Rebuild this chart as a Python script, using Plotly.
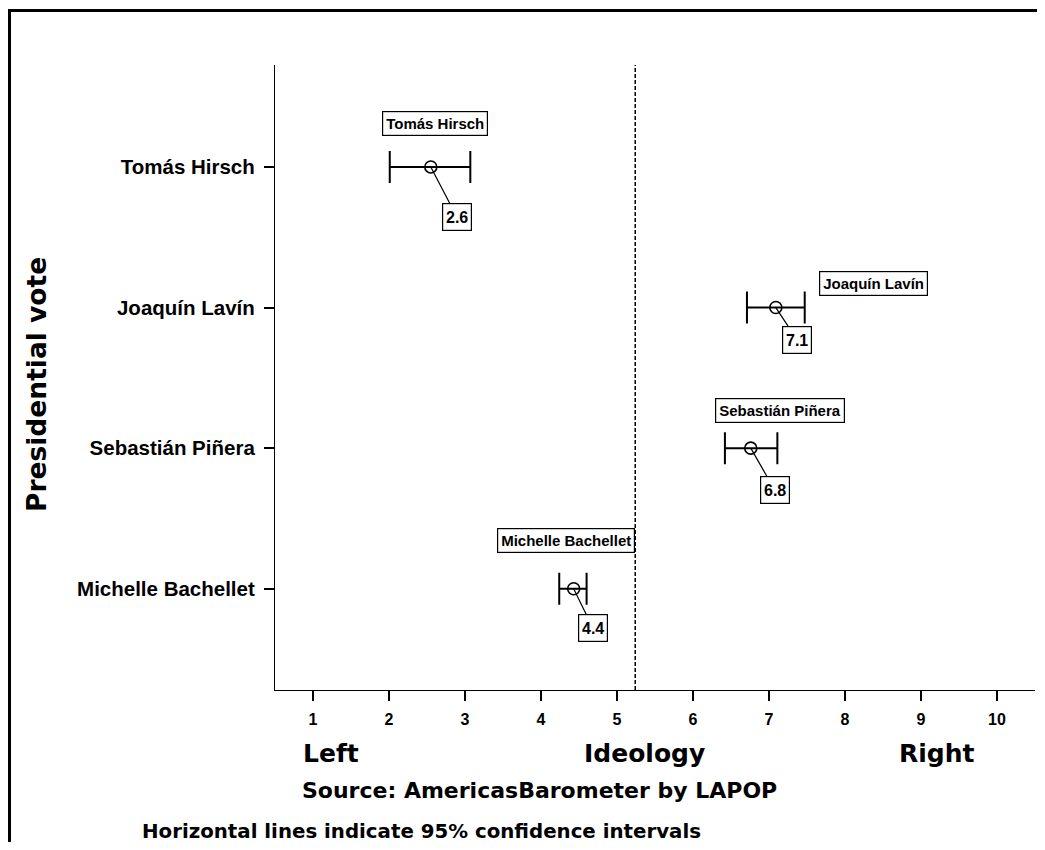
import plotly.graph_objects as go

# ---- data ----
candidates = ["Tomás Hirsch", "Joaquín Lavín", "Sebastián Piñera", "Michelle Bachellet"]
means = [2.55, 7.09, 6.76, 4.43]
ci_lower = [2.01, 6.71, 6.42, 4.24]
ci_upper = [3.07, 7.47, 7.11, 4.60]
value_labels = ["2.6", "7.1", "6.8", "4.4"]
overall_mean = 5.24
x_ticks = [1, 2, 3, 4, 5, 6, 7, 8, 9, 10]
category_order = ["Michelle Bachellet", "Sebastián Piñera", "Joaquín Lavín", "Tomás Hirsch"]

# ---- style ----
HEAVY = "DejaVu Sans"
BOLD = "Liberation Sans, Arial, sans-serif"
NARROW = "Liberation Sans Narrow, Liberation Sans, sans-serif"

# the page body has an 8px margin; the figure is sized so that nothing scrolls
W, H = 1029, 834
PL, PT, PW, PH = 275, 65, 760, 625   # plot area in screen pixels


def px(sx):
    return (sx - PL) / PW


def py(sy):
    return (PT + PH - sy) / PH


# pixel offsets of the value boxes (ax, ay) and name labels (xshift, yshift)
value_offsets = [(26, 50), (21, 32), (24, 42), (19, 39)]
name_offsets = [(4, 43), (98, 24), (29, 38), (-8, 48)]

fig = go.Figure()
fig.add_trace(go.Scatter(
    x=means, y=candidates, mode="markers",
    marker=dict(symbol="circle-open", size=12, color="black", line=dict(width=1.6, color="black")),
    error_x=dict(type="data", symmetric=False,
                 array=[u - m for u, m in zip(ci_upper, means)],
                 arrayminus=[m - l for m, l in zip(means, ci_lower)],
                 color="black", thickness=2, width=16),
    showlegend=False, hoverinfo="skip",
))

annotations = []
for name, m, lab, (ax, ay), (xs, ys) in zip(candidates, means, value_labels, value_offsets, name_offsets):
    annotations.append(dict(
        x=m, y=name, xref="x", yref="y", text="<b>%s</b>" % lab,
        showarrow=True, arrowhead=0, arrowwidth=1.2, arrowcolor="black",
        ax=ax, ay=ay, standoff=0, startstandoff=0,
        font=dict(family=BOLD, size=16, color="black"),
        bordercolor="black", borderwidth=1.2, borderpad=2, bgcolor="white",
        width=24, height=22,
    ))
    annotations.append(dict(
        x=m, y=name, xref="x", yref="y", text="<b>%s</b>" % name,
        showarrow=False, xshift=xs, yshift=ys,
        font=dict(family=BOLD, size=15, color="black"),
        bordercolor="black", borderwidth=1.2, borderpad=3, bgcolor="white",
    ))

# bottom texts
for sx, txt in [(331, "Left"), (644, "Ideology"), (937, "Right")]:
    annotations.append(dict(
        x=px(sx), y=py(753), xref="paper", yref="paper", xanchor="center", yanchor="middle",
        showarrow=False, text="<b>%s</b>" % txt,
        font=dict(family=HEAVY, size=25, color="black"),
    ))

annotations.append(dict(
    x=px(300), y=py(790), xref="paper", yref="paper",
    xanchor="left", yanchor="middle", showarrow=False,
    text="<b>Source: AmericasBarometer by LAPOP</b>",
    font=dict(family=HEAVY, size=22, color="black"),
))
annotations.append(dict(
    x=px(140), y=py(831), xref="paper", yref="paper",
    xanchor="left", yanchor="middle", showarrow=False,
    text="<b>Horizontal lines indicate 95% confidence intervals</b>",
    font=dict(family=HEAVY, size=19.8, color="black"),
))
annotations.append(dict(
    x=px(36), y=py(385), xref="paper", yref="paper",
    xanchor="center", yanchor="middle", showarrow=False, textangle=-90,
    text="<b>Presidential vote</b>",
    font=dict(family=HEAVY, size=26.5, color="black"),
))

shapes = [
    dict(type="line", xref="x", yref="paper", x0=overall_mean, x1=overall_mean, y0=0, y1=1,
         line=dict(color="black", width=1.5, dash="4px,2px")),
    dict(type="rect", xref="paper", yref="paper",
         x0=px(9.5), x1=1.2, y0=-0.5, y1=py(10.5),
         line=dict(color="black", width=3), fillcolor="rgba(0,0,0,0)", layer="above"),
]

fig.update_layout(
    width=W, height=H,
    margin=dict(l=PL - 8, r=W - (PL - 8) - PW, t=PT - 8, b=H - (PT - 8) - PH, autoexpand=False),
    paper_bgcolor="white", plot_bgcolor="white",
    annotations=annotations, shapes=shapes,
    xaxis=dict(range=[0.5, 10.5], tickvals=x_ticks, ticktext=["<b>%d</b>" % t for t in x_ticks],
               showline=True, linecolor="black", linewidth=1.2,
               ticks="outside", ticklen=10, tickwidth=2, tickcolor="black",
               ticklabelstandoff=5,
               tickfont=dict(family=NARROW, size=16, color="black"),
               showgrid=False, zeroline=False),
    yaxis=dict(type="category", categoryorder="array", categoryarray=category_order,
               range=[-0.72, 3.725],
               ticktext=["<b>%s</b>" % c for c in category_order], tickvals=category_order,
               showline=True, linecolor="black", linewidth=1.2,
               ticks="outside", ticklen=10, tickwidth=1.5, tickcolor="black",
               ticklabelstandoff=5,
               tickfont=dict(family=BOLD, size=20.5, color="black"),
               showgrid=False, zeroline=False),
)

fig.write_html("out.html")
